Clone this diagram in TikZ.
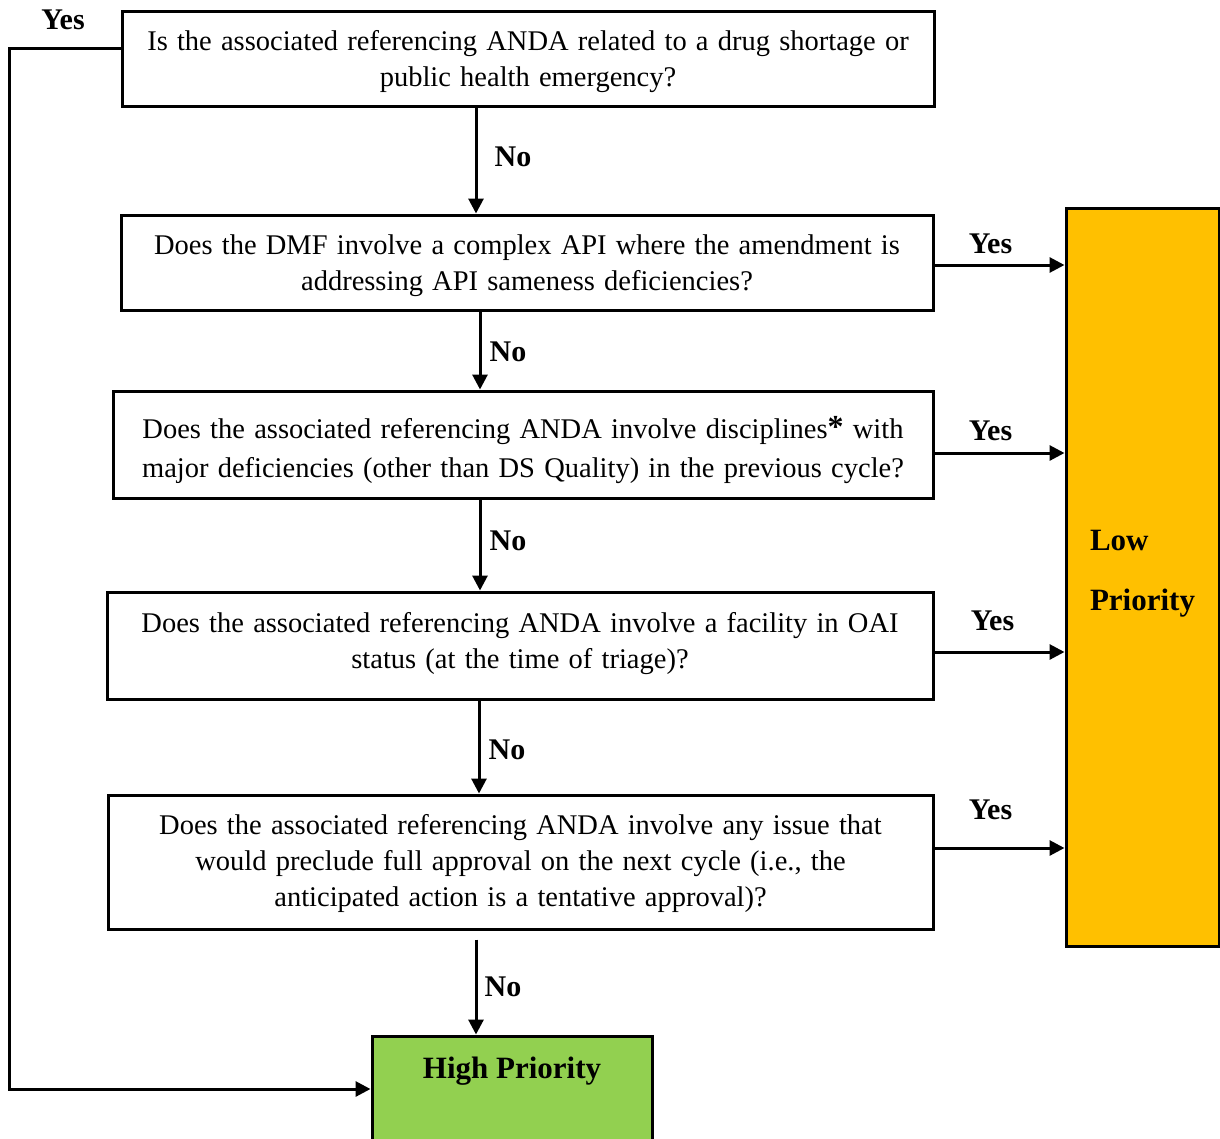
\documentclass[tikz,border=0pt]{standalone}
\usepackage{fontspec}
\setmainfont{Liberation Serif}
\usetikzlibrary{arrows.meta,calc}
\definecolor{lowcol}{HTML}{FFC000}
\definecolor{highcol}{HTML}{92D050}
\newcommand{\mvtext}[2]{\spaceskip=9.2pt\relax\raisebox{#1}[\height][\depth]{\begin{tabular}{@{}c@{}}#2\end{tabular}}}
\begin{document}
\begin{tikzpicture}[x=1pt,y=-1pt,
  q/.style={draw, line width=3pt, inner sep=0pt, font=\fontsize{28.5}{36}\selectfont},
  conn/.style={line width=3pt, -{Triangle[length=15pt,width=15pt]}},
  lbl/.style={font=\fontsize{30}{30}\selectfont\bfseries, inner sep=2pt},
  pri/.style={draw, line width=3pt, inner sep=0pt}]
\useasboundingbox (0,0) rectangle (1220,1138);
\clip (0,0) rectangle (1220,1138);
\node[q, minimum width=812, minimum height=95] (b1) at (528,58.5)
  {\mvtext{-3pt}{Is the associated referencing ANDA related to a drug shortage or\\public health emergency?}};
\node[q, minimum width=812, minimum height=95] (b2) at (527,262.5)
  {\mvtext{-3pt}{Does the DMF involve a complex API where the amendment is\\addressing API sameness deficiencies?}};
\node[q, minimum width=820, minimum height=107] (b3) at (523,444.5)
  {\mvtext{-6pt}{Does the associated referencing ANDA involve disciplines\raisebox{1pt}{\fontsize{32}{32}\selectfont\bfseries *}\ with\\[3pt]major deficiencies (other than DS Quality) in the previous cycle?}};
\node[q, minimum width=826, minimum height=107] (b4) at (520,645.5)
  {\mvtext{2.5pt}{Does the associated referencing ANDA involve a facility in OAI\\status (at the time of triage)?}};
\node[q, minimum width=825, minimum height=134] (b5) at (520.5,862)
  {\mvtext{-1pt}{Does the associated referencing ANDA involve any issue that\\would preclude full approval on the next cycle (i.e., the\\anticipated action is a tentative approval)?}};
\node[pri, fill=highcol, minimum width=280, minimum height=106,
  label={[lbl, anchor=north, yshift=-20pt, font=\fontsize{31}{30}\selectfont\bfseries]north:High Priority}] (high) at (512,1089) {};
\node[pri, fill=lowcol, minimum width=153, minimum height=738,
  label={[lbl, align=left, yshift=3pt, font=\fontsize{31}{60}\selectfont\bfseries]center:Low\\Priority}] (low) at (1142.5,577) {};
% No arrows
\coordinate (a1) at ($(b1.south)+(-52,0)$);
\coordinate (a2) at ($(b2.south)+(-47,0)$);
\coordinate (a3) at ($(b3.south)+(-43,0)$);
\coordinate (a4) at ($(b4.south)+(-41,0)$);
\coordinate (a5) at ($(b5.south)+(-44.5,9)$);
\draw[conn] (a1) -- (a1 |- b2.north) node[lbl, midway, xshift=37, yshift=3.5] {No};
\draw[conn] (a2) -- (a2 |- b3.north) node[lbl, midway, xshift=28, yshift=-1.5] {No};
\draw[conn] (a3) -- (a3 |- b4.north) node[lbl, midway, xshift=28, yshift=4] {No};
\draw[conn] (a4) -- (a4 |- b5.north) node[lbl, midway, xshift=28, yshift=-3] {No};
\draw[conn] (a5) -- (a5 |- high.north) node[lbl, midway, xshift=27, yshift=0.5] {No};
% Yes arrows
\draw[conn] ([yshift=-2.5]b2.east) -- ([yshift=-2.5]b2.east -| low.west) node[lbl, midway, xshift=-9, yshift=21] {Yes};
\draw[conn] ([yshift=-8.5]b3.east) -- ([yshift=-8.5]b3.east -| low.west) node[lbl, midway, xshift=-9, yshift=22] {Yes};
\draw[conn] ([yshift=-6.5]b4.east) -- ([yshift=-6.5]b4.east -| low.west) node[lbl, midway, xshift=-7, yshift=31] {Yes};
\draw[conn] ([yshift=14]b5.east) -- ([yshift=14]b5.east -| low.west) node[lbl, midway, xshift=-9, yshift=38] {Yes};
% left loop
\draw[conn] ([yshift=10.5]b1.west) -- ++(-111,0) node[lbl, midway, xshift=-2, yshift=28] {Yes} |- (high.west);
\end{tikzpicture}
\end{document}
